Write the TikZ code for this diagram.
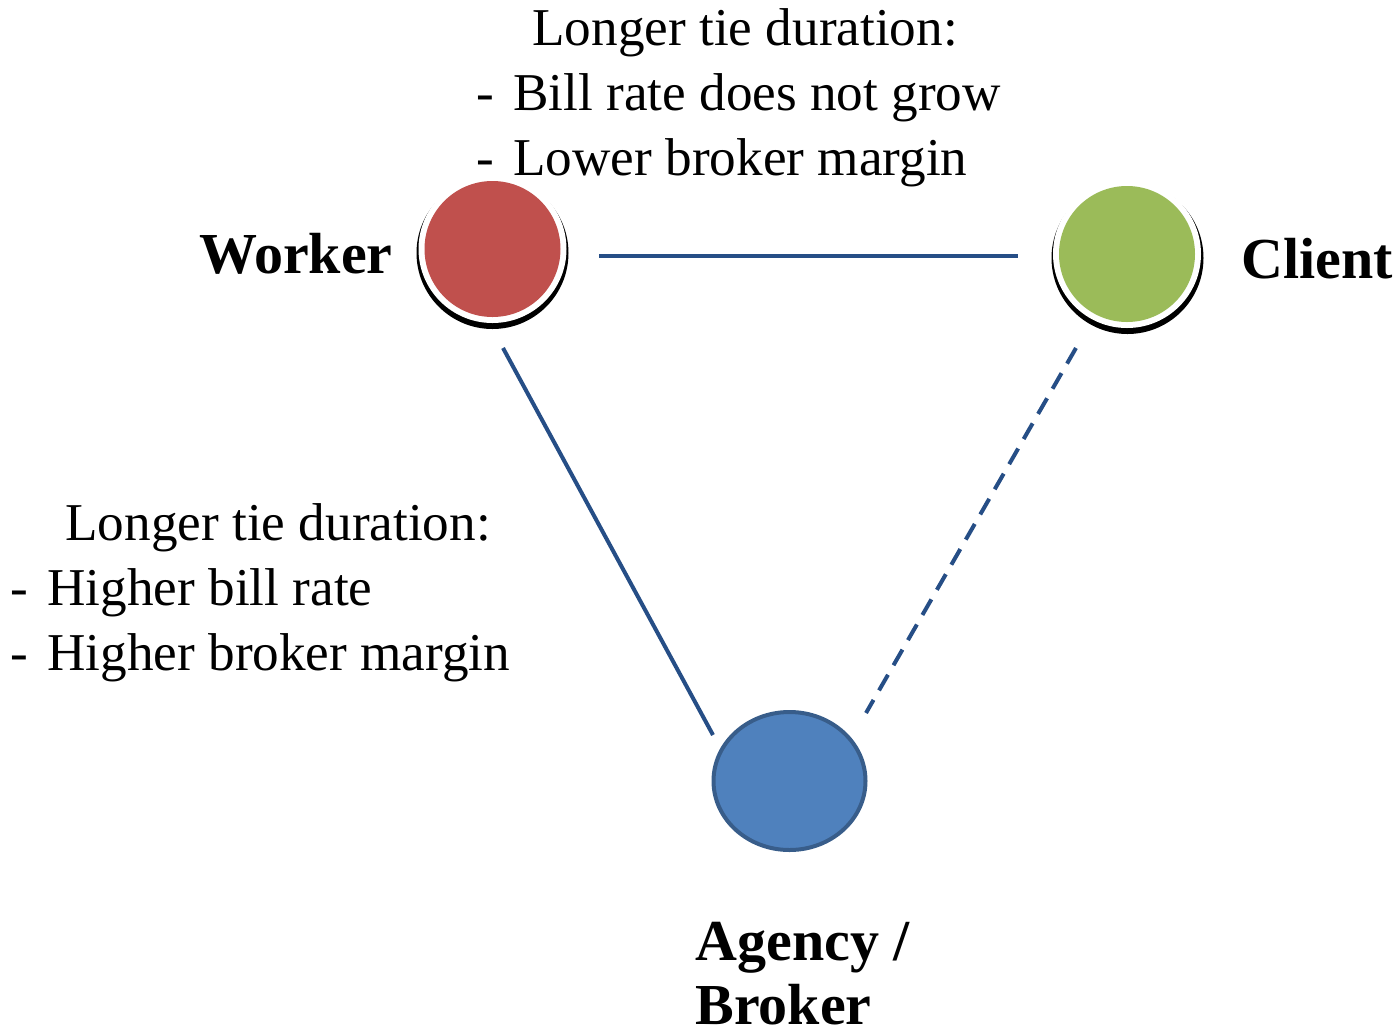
\documentclass[tikz,border=0pt]{standalone}
\usepackage{fontspec}
\setmainfont{Liberation Serif}
\usetikzlibrary{backgrounds,calc,shapes}

\definecolor{workerred}{HTML}{C0504D}
\definecolor{clientgreen}{HTML}{9BBB59}
\definecolor{agencyblue}{HTML}{4F81BD}
\definecolor{agencyedge}{HTML}{385D8A}
\definecolor{tieblue}{HTML}{264E86}

\begin{document}
\begin{tikzpicture}[x=0.5pt,y=-0.5pt,
	party/.style={circle,inner sep=0,minimum size=68pt},
	tie/.style={draw=tieblue,line width=2pt},
	note/.style={inner sep=0,anchor=base west,font=\fontsize{26.6}{32.5}\selectfont},
	role/.style={inner sep=0,anchor=base west,font=\fontsize{29}{31}\selectfont\bfseries}]

\useasboundingbox (0,0) rectangle (1399,1035);

\node[party,fill=workerred] (worker) at (492.5,249) {};
\node[party,fill=clientgreen] (client) at (1127,254) {};
\node[ellipse,draw=agencyedge,fill=agencyblue,line width=2pt,inner sep=0,
	minimum width=76pt,minimum height=69pt] (agency) at (789.5,781) {};

% shadow rings
\begin{scope}[on background layer]
\fill[black] ($(worker)+(0,4)$) circle (38pt);
\fill[white] (worker) circle (37pt);
\fill[black] ($(client)+(0.5,4)$) circle (38pt);
\fill[white] (client) circle (37pt);
\end{scope}

\draw[tie] ($(worker)+(106.5,7)$) -- ($(client)+(-109,2)$);
\draw[tie] ($(worker)+(10.5,99)$) -- ($(agency)+(-76.5,-46)$);
\draw[tie,dash pattern=on 9pt off 5.5pt] ($(client)+(-51,94)$) -- ($(agency)+(76.5,-68)$);

\node[role] (workerl) at (199,273) {Worker};
\node[role] (clientl) at (1241,278) {Client};
\node[role] (agencyl) at (695,960) {Agency /};
\node[role] (brokerl) at (695,1024) {Broker};

\node[note] (tophead) at (532,45) {Longer tie duration:};
\node[note] (topone) at (476,110) {\makebox[18.5pt][l]{-}Bill rate does not grow};
\node[note] (toptwo) at (476,175) {\makebox[18.5pt][l]{-}Lower broker margin};

\node[note] (lefthead) at (65,540) {Longer tie duration:};
\node[note] (leftone) at (10,605) {\makebox[18.5pt][l]{-}Higher bill rate};
\node[note] (lefttwo) at (10,670) {\makebox[18.5pt][l]{-}Higher broker margin};

\end{tikzpicture}
\end{document}
